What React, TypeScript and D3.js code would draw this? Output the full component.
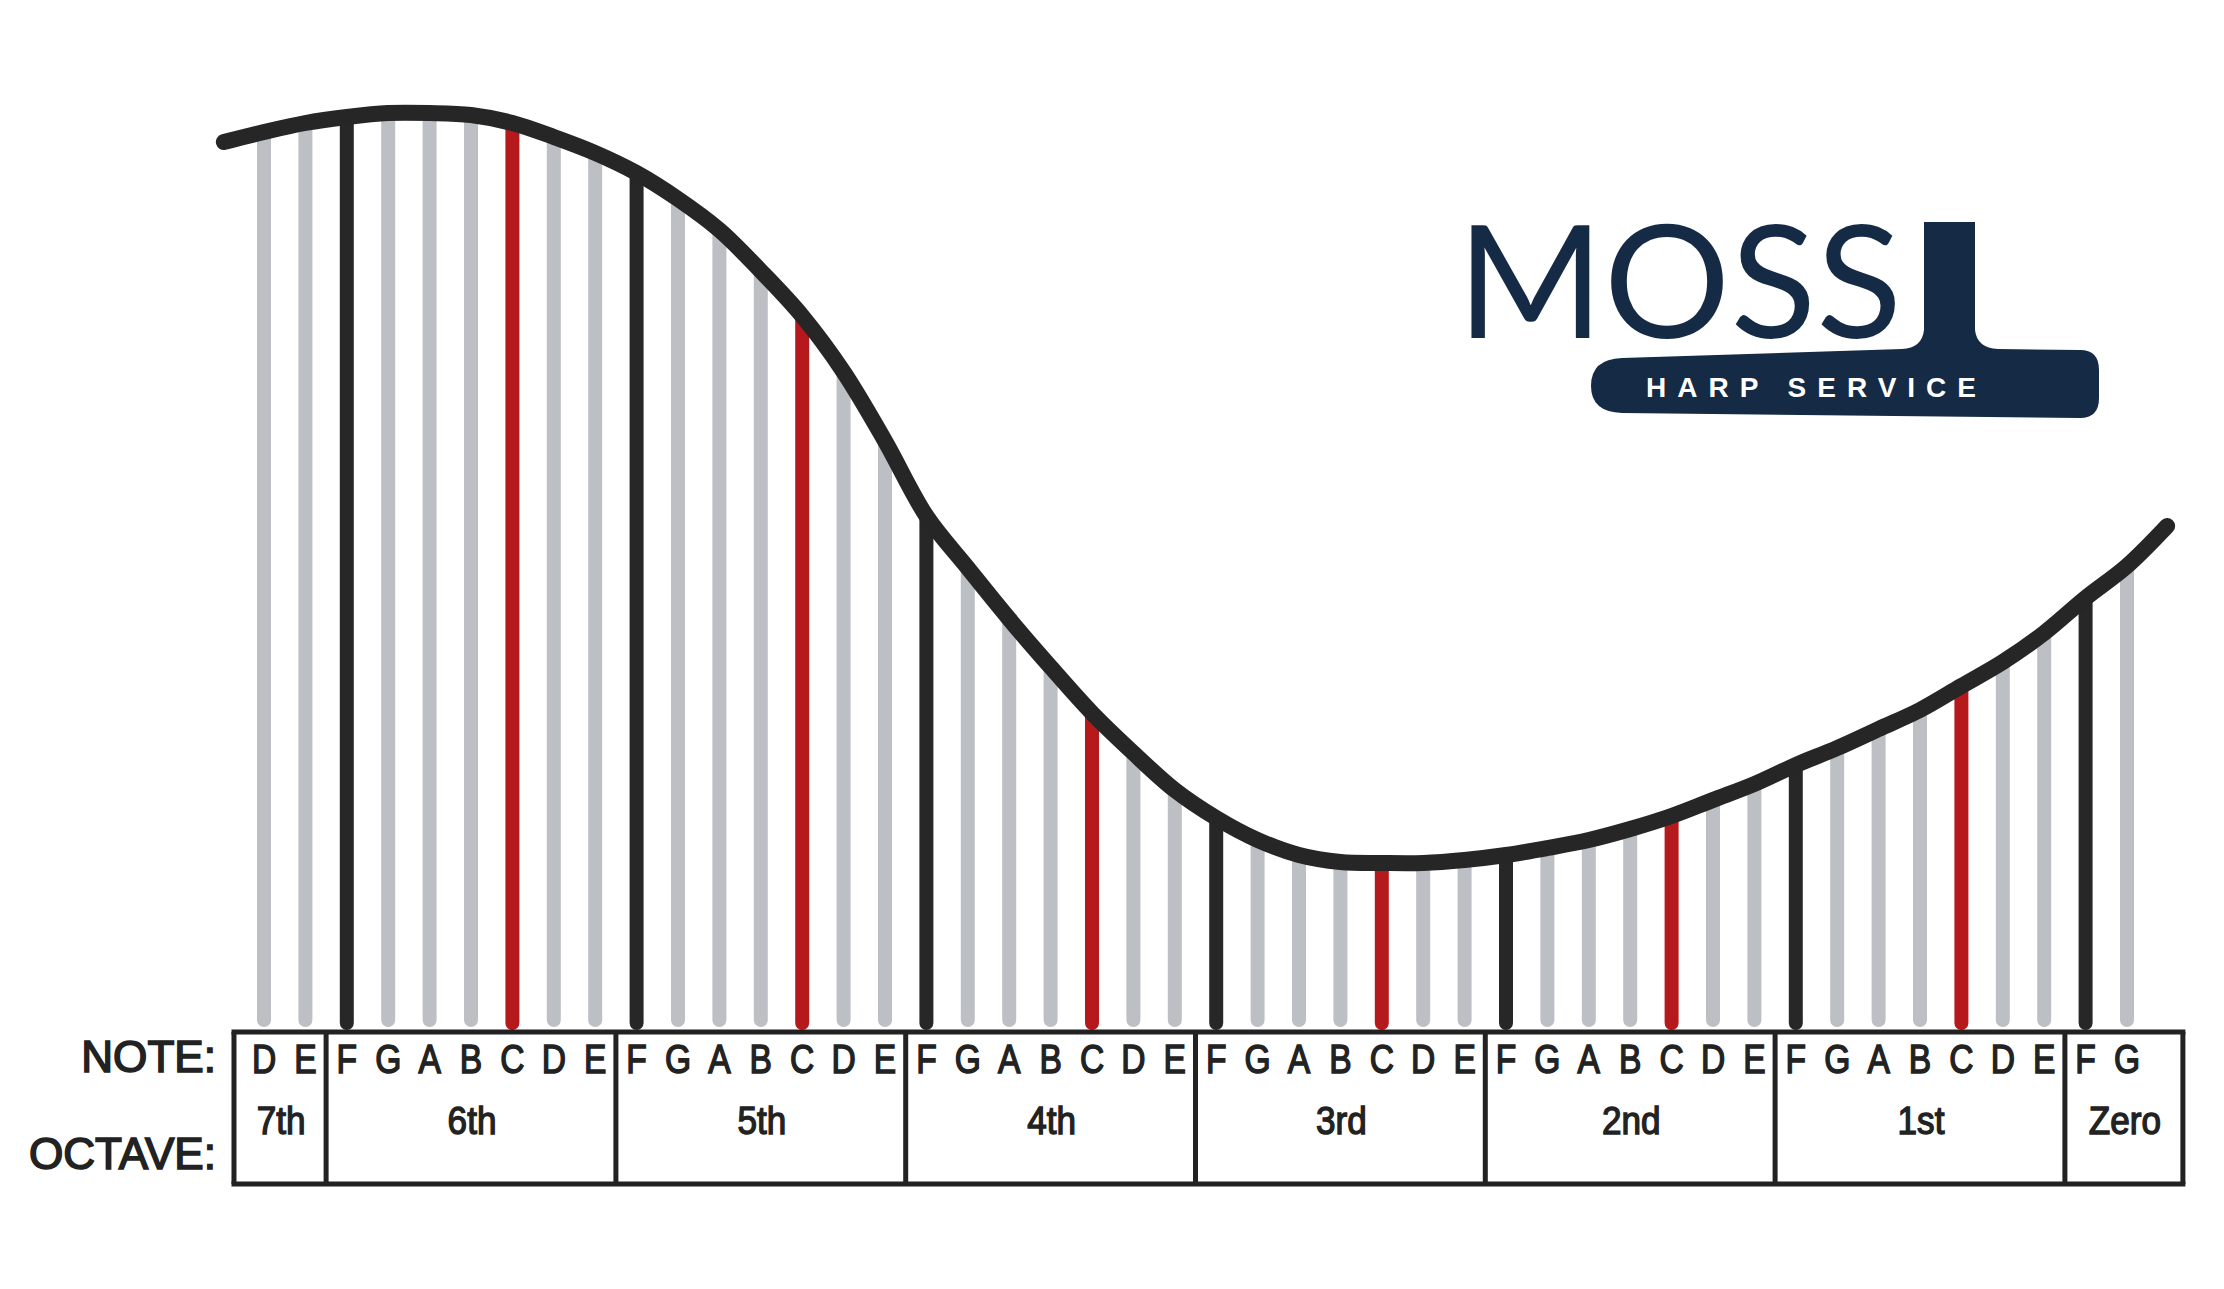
import React from "react";
import * as d3 from "d3";

// ---- data ----
const notes = [
  "D", "E",
  "F", "G", "A", "B", "C", "D", "E",
  "F", "G", "A", "B", "C", "D", "E",
  "F", "G", "A", "B", "C", "D", "E",
  "F", "G", "A", "B", "C", "D", "E",
  "F", "G", "A", "B", "C", "D", "E",
  "F", "G", "A", "B", "C", "D", "E",
  "F", "G",
];
const octaveLabels = ["7th", "6th", "5th", "4th", "3rd", "2nd", "1st", "Zero"];
const octaveSizes = [2, 7, 7, 7, 7, 7, 7, 2];
// string length (height of the neck above the soundboard), one per string
const stringLengths = [
  895, 904, 910, 914, 914, 912, 904, 890, 874,
  854, 828, 797, 756, 711, 655, 586,
  511, 459, 408, 360, 314, 274, 237,
  209, 187, 172, 165, 164, 164, 167,
  172, 179, 187, 198, 211, 227, 243,
  262, 279, 298, 317, 341, 365, 394,
  429, 461,
];
// neck curve ends beyond the first / last string [index, height]
const neckStart = [-0.97, 885];
const neckEnd = [45.97, 501];

const W = 2224;
const H = 1289;

const colorFor = (n: string) =>
  n === "F" ? "#272727" : n === "C" ? "#b5191b" : "#bcbfc4";

export default function App() {
  const x = d3.scaleLinear().domain([0, 45]).range([264, 2127]);
  const y = d3.scaleLinear().domain([0, 1000]).range([1027, 27]);

  const neckPts: [number, number][] = [
    [neckStart[0], neckStart[1]],
    ...stringLengths.map((v, i) => [i, v] as [number, number]),
    [neckEnd[0], neckEnd[1]],
  ];
  const line = d3
    .line<[number, number]>()
    .x((d) => x(d[0]))
    .y((d) => y(d[1]))
    .curve(d3.curveCatmullRom.alpha(0.5));

  const tableTop = 1032;
  const tableBottom = 1184;
  const tableLeft = x(-0.725);
  const tableRight = x(46.35);

  // octave boundaries
  const bounds: number[] = [];
  let acc = 0;
  octaveSizes.forEach((s) => {
    bounds.push(acc);
    acc += s;
  });

  const textFont = "'Liberation Sans', Arial, Helvetica, sans-serif";

  return (
    <svg
      width={W}
      height={H}
      style={{ position: "absolute", left: 0, top: 0, display: "block", background: "#fff" }}
    >
      <rect x={0} y={0} width={W} height={H} fill="#fff" />
      {/* strings */}
      {stringLengths.map((v, i) => {
        const n = notes[i];
        const dark = n === "F" || n === "C";
        return (
          <line
            key={i}
            x1={x(i)}
            x2={x(i)}
            y1={y(0) - (dark ? 4 : 7)}
            y2={y(v)}
            stroke={colorFor(n)}
            strokeWidth={14}
            strokeLinecap="round"
          />
        );
      })}
      {/* neck */}
      <path
        d={line(neckPts) || ""}
        fill="none"
        stroke="#262626"
        strokeWidth={16}
        strokeLinecap="round"
      />

      {/* table */}
      <g stroke="#222" strokeWidth={5} fill="none">
        <line x1={tableLeft} x2={tableRight} y1={tableTop} y2={tableTop} strokeLinecap="square" />
        <line x1={tableLeft} x2={tableRight} y1={tableBottom} y2={tableBottom} strokeLinecap="square" />
        <line x1={tableLeft} x2={tableLeft} y1={tableTop} y2={tableBottom} />
        <line x1={tableRight} x2={tableRight} y1={tableTop} y2={tableBottom} />
        {bounds.slice(1).map((b, k) => (
          <line key={k} x1={x(b - 0.5)} x2={x(b - 0.5)} y1={tableTop} y2={tableBottom} />
        ))}
      </g>

      {/* note letters */}
      {notes.map((n, i) => (
        <text
          key={i}
          transform={`translate(${x(i)},1073) scale(0.84,1)`}
          textAnchor="middle"
          fontFamily={textFont}
          fontSize={40}
          fill="#222"
          stroke="#222"
          strokeWidth={1.5}
        >
          {n}
        </text>
      ))}
      {/* octave labels */}
      {octaveLabels.map((lab, k) => {
        const start = bounds[k];
        const end = start + octaveSizes[k] - 1;
        const left = k === 0 ? tableLeft : x(start - 0.5);
        const right = k === octaveLabels.length - 1 ? tableRight : x(end + 0.5);
        return (
          <text
            key={lab}
            transform={`translate(${(left + right) / 2 + 1},1134) scale(0.9,1)`}
            textAnchor="middle"
            fontFamily={textFont}
            fontSize={39}
            fill="#222"
            stroke="#222"
            strokeWidth={1.4}
          >
            {lab}
          </text>
        );
      })}
      <text
        transform="translate(216,1072) scale(0.98,1)"
        textAnchor="end"
        fontFamily={textFont}
        fontSize={45}
        fill="#222"
        stroke="#222"
        strokeWidth={1.6}
      >
        NOTE:
      </text>
      <text
        transform="translate(216,1169) scale(0.98,1)"
        textAnchor="end"
        fontFamily={textFont}
        fontSize={45}
        fill="#222"
        stroke="#222"
        strokeWidth={1.6}
      >
        OCTAVE:
      </text>

      {/* logo */}
      <g fill="#152a45">
        <text
          x={1457}
          y={338}
          fontFamily="Lato, 'Open Sans', sans-serif"
          fontSize={157}
          fontWeight={400}
          textLength={445}
          lengthAdjust="spacingAndGlyphs"
        >
          MOSS
        </text>
        <path d="M 1924 222 L 1975 222 L 1975 330 Q 1977 348 1998 349 L 2080 350 Q 2099 350 2099 370 L 2099 398 Q 2099 418 2080 418 L 1622 413 Q 1591 412 1591 386 Q 1591 359 1622 358 L 1902 349 Q 1922 348 1924 330 Z" />
        <text
          x={1646}
          y={397}
          fill="#fff"
          fontFamily={textFont}
          fontWeight={700}
          fontSize={28}
          textLength={330}
          lengthAdjust="spacing"
        >
          HARP SERVICE
        </text>
      </g>
    </svg>
  );
}
